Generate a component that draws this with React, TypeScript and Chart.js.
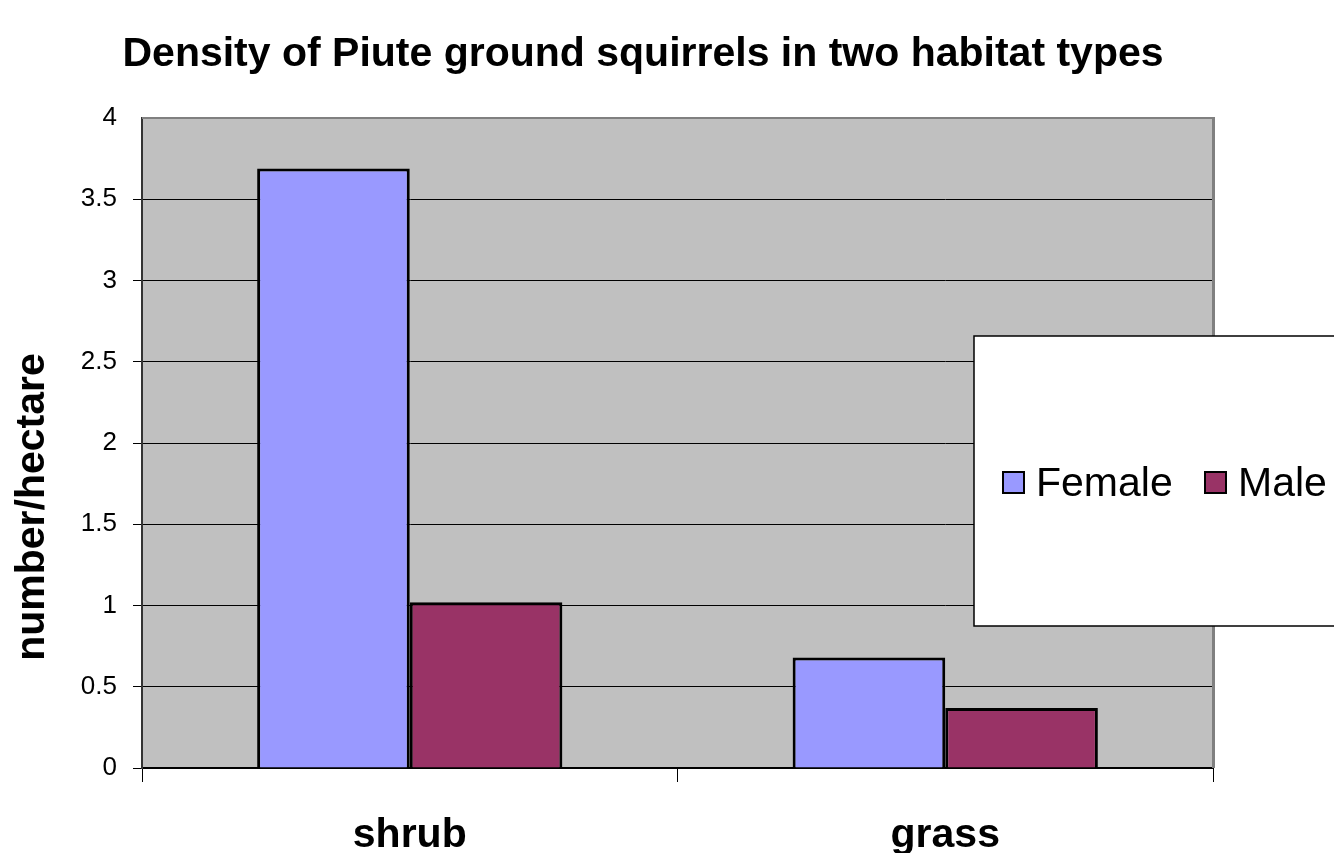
import React, { useEffect, useRef } from "react";
import { Chart, registerables } from "chart.js";

Chart.register(...registerables);

const TITLE = "Density of Piute ground squirrels in two habitat types";
const Y_TITLE = "number/hectare";
const CATEGORIES = ["shrub", "grass"];
const FEMALE = [3.69, 0.68];
const MALE = [1.02, 0.37];
const SERIES_LABELS = ["Female", "Male"];
const SERIES_COLORS = ["#9999FF", "#993366"];

const FONT = '"Liberation Sans", Arial, Helvetica, sans-serif';

const decorPlugin = {
  id: "decor",
  beforeDraw(chart: any) {
    const { ctx, chartArea } = chart;
    ctx.save();
    ctx.fillStyle = "#ffffff";
    ctx.fillRect(0, 0, chart.width, chart.height);
    ctx.fillStyle = "#c0c0c0";
    ctx.fillRect(chartArea.left, chartArea.top, chartArea.right - chartArea.left, chartArea.bottom - chartArea.top);
    ctx.restore();
  },
  afterDatasetsDraw(chart: any) {
    const { ctx, chartArea } = chart;
    ctx.save();
    ctx.strokeStyle = "#808080";
    ctx.lineWidth = 2;
    ctx.beginPath();
    ctx.moveTo(chartArea.left, chartArea.top);
    ctx.lineTo(chartArea.right, chartArea.top);
    ctx.stroke();
    ctx.lineWidth = 3;
    ctx.beginPath();
    ctx.moveTo(chartArea.right + 0.5, chartArea.top - 1);
    ctx.lineTo(chartArea.right + 0.5, chartArea.bottom);
    ctx.stroke();
    ctx.restore();
  },
  afterDraw(chart: any) {
    const { ctx } = chart;
    ctx.save();
    // title
    ctx.fillStyle = "#000";
    ctx.font = `bold 41px ${FONT}`;
    ctx.textAlign = "center";
    ctx.textBaseline = "alphabetic";
    ctx.fillText(TITLE, 643, 66);
    // y title
    ctx.save();
    ctx.translate(44, 507);
    ctx.rotate(-Math.PI / 2);
    ctx.fillText(Y_TITLE, 0, 0);
    ctx.restore();
    // legend box
    ctx.fillStyle = "#ffffff";
    ctx.fillRect(974, 336, 420, 290);
    ctx.strokeStyle = "#000";
    ctx.lineWidth = 1.5;
    ctx.strokeRect(974, 336, 420, 290);
    const ds = chart.data.datasets;
    const markerX = [1003, 1205];
    ctx.font = `41px ${FONT}`;
    ctx.textAlign = "left";
    ds.forEach((d: any, i: number) => {
      ctx.fillStyle = d.backgroundColor;
      ctx.fillRect(markerX[i], 472, 21, 21);
      ctx.lineWidth = 2;
      ctx.strokeStyle = "#000";
      ctx.strokeRect(markerX[i], 472, 21, 21);
      ctx.fillStyle = "#000";
      ctx.fillText(d.label, markerX[i] + 33, 496);
    });
    ctx.restore();
  },
};

export default function App() {
  const ref = useRef<HTMLCanvasElement | null>(null);
  useEffect(() => {
    if (!ref.current) return;
    const chart = new Chart(ref.current, {
      type: "bar",
      data: {
        labels: CATEGORIES,
        datasets: [
          {
            label: SERIES_LABELS[0],
            data: FEMALE,
            backgroundColor: SERIES_COLORS[0],
            borderColor: "#000",
            borderWidth: 3,
            barPercentage: 1,
            categoryPercentage: 0.57,
          },
          {
            label: SERIES_LABELS[1],
            data: MALE,
            backgroundColor: SERIES_COLORS[1],
            borderColor: "#000",
            borderWidth: 3,
            barPercentage: 1,
            categoryPercentage: 0.57,
          },
        ],
      },
      options: {
        responsive: false,
        animation: false,
        layout: { padding: { top: 118, right: 121, left: 0, bottom: 0 } },
        plugins: {
          legend: { display: false },
          title: { display: false },
          tooltip: { enabled: false },
        },
        scales: {
          x: {
            afterFit: (s: any) => {
              s.height = 85;
            },
            grid: {
              offset: true,
              drawOnChartArea: false,
              drawTicks: true,
              tickLength: 14,
              color: "#000",
              lineWidth: 1,
            },
            border: { color: "#000", width: 2 },
            ticks: {
              color: "#000",
              font: { family: FONT, size: 41, weight: "bold" },
              padding: 29,
            },
          },
          y: {
            min: 0,
            max: 4,
            afterFit: (s: any) => {
              s.width = 142;
            },
            ticks: {
              stepSize: 0.5,
              color: "#000",
              font: { family: FONT, size: 26 },
              padding: 16,
              callback: (v: any) => String(v),
            },
            grid: {
              color: (c: any) => (c.tick && c.tick.value === 4 ? "rgba(0,0,0,0)" : "#000"),
              lineWidth: 1,
              tickLength: 9,
            },
            border: { color: "#333", width: 2 },
          },
        },
      },
      plugins: [decorPlugin],
    });
    return () => chart.destroy();
  }, []);
  return (
    <div style={{ position: "absolute", left: 0, top: 0, width: 1334, height: 853, background: "#fff" }}>
      <canvas ref={ref} width={1334} height={853} />
    </div>
  );
}
